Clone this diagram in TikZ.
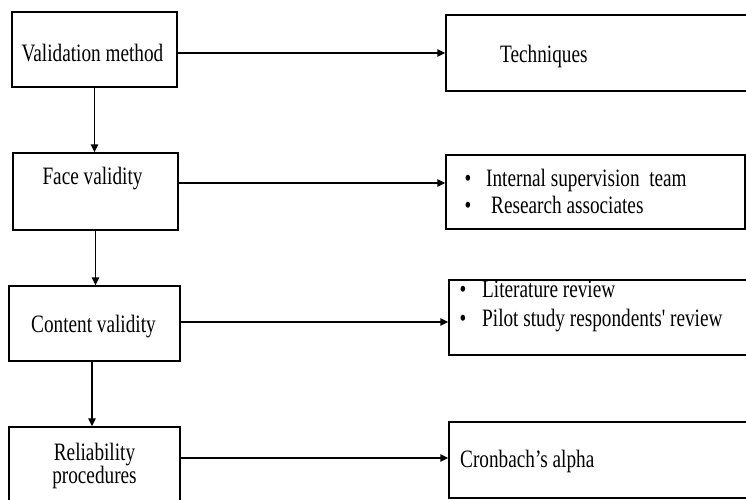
\documentclass[tikz,border=0pt]{standalone}
\usepackage{fontspec}
\setmainfont[FakeStretch=0.77, Ligatures=TeXOff]{Liberation Serif}
\usetikzlibrary{arrows.meta}
\begin{document}
\begin{tikzpicture}[x=1pt,y=-1pt,
  box/.style={draw, line width=1.4pt, inner sep=0pt, rectangle},
  lbl/.style={font=\fontsize{25}{28}\selectfont, inner sep=0pt},
  link/.style={line width=1.4pt, -{Triangle[length=8pt,width=7.5pt]}}]
  \path[clip] (0,0) rectangle (746,500);
  \fill[white] (0,0) rectangle (746,500);

  % left column
  \node[box, minimum width=165pt, minimum height=75pt] (vm) at (94.5,49.5) {};
  \node[box, minimum width=165pt, minimum height=77pt] (fv) at (95.5,191.5) {};
  \node[box, minimum width=171pt, minimum height=75pt] (cv) at (94.5,323.5) {};
  \node[box, minimum width=171pt, minimum height=83pt] (rp) at (94.5,468.5) {};

  % right column
  \node[box, minimum width=314pt, minimum height=76pt] (tech) at (603,53) {};
  \node[box, minimum width=299pt, minimum height=74pt] (team) at (595.5,192) {};
  \node[box, minimum width=311pt, minimum height=75pt] (lit) at (604.5,317.5) {};
  \node[box, minimum width=311pt, minimum height=76pt] (cron) at (604.5,460) {};

  % labels, left
  \node[lbl, anchor=base] (tvm) at (92.5,62) {Validation method};
  \node[lbl, anchor=base] (tfv) at (92.5,184) {Face validity};
  \node[lbl, anchor=base] (tcv) at (93.5,332) {Content validity};
  \node[lbl, anchor=base] (trp1) at (94.5,460) {Reliability};
  \node[lbl, anchor=base] (trp2) at (94.5,483) {procedures};

  % labels, right
  \node[lbl, anchor=base west] (ttech) at (500,63) {Techniques};
  \node[lbl, anchor=base] (b1) at (468,186) {•};
  \node[lbl, anchor=base west] (tb1) at (486,186) {Internal supervision\ \ team};
  \node[lbl, anchor=base] (b2) at (468,213) {•};
  \node[lbl, anchor=base west] (tb2) at (491,213) {Research associates};
  \node[lbl, anchor=base] (b3) at (463,297) {•};
  \node[lbl, anchor=base west] (tb3) at (482,297) {Literature review};
  \node[lbl, anchor=base] (b4) at (463,326) {•};
  \node[lbl, anchor=base west] (tb4) at (482,326) {Pilot study respondents' review};
  \node[lbl, anchor=base west] (tcron) at (460,467) {Cronbach’s alpha};

  % vertical links
  \draw[link] (vm.south) -- (vm.south |- fv.north);
  \draw[link] (fv.south) -- (fv.south |- cv.north);
  \coordinate (cvs) at ([xshift=-2.5pt]cv.south);
  \draw[link] (cvs) -- (cvs |- rp.north);

  % horizontal links
  \coordinate (h1) at ([yshift=-3.5pt]vm.east);
  \draw[link] (h1) -- (h1 -| tech.west);
  \coordinate (h2) at ([yshift=8.5pt]fv.east);
  \draw[link] (h2) -- (h2 -| team.west);
  \coordinate (h3) at ([yshift=1.5pt]cv.east);
  \draw[link] (h3) -- (h3 -| lit.west);
  \coordinate (h4) at ([yshift=10.5pt]rp.east);
  \draw[link] (h4) -- (h4 -| cron.west);
\end{tikzpicture}
\end{document}
